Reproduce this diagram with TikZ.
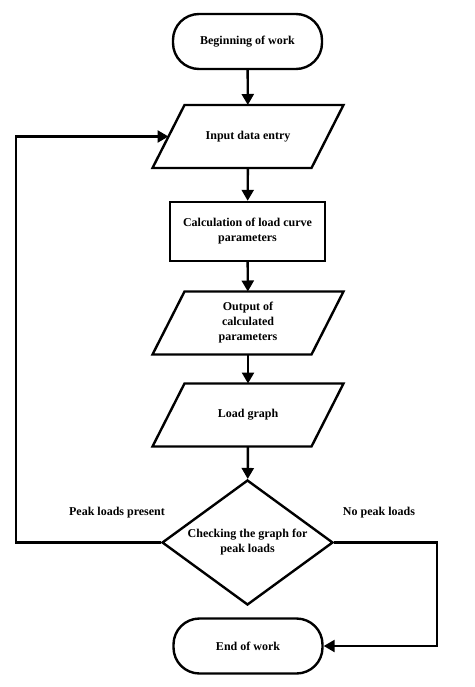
\documentclass[tikz,border=0pt]{standalone}
\usepackage{fontspec}
\setmainfont{Liberation Serif}
\usetikzlibrary{arrows.meta,shapes.geometric}
\begin{document}
\begin{tikzpicture}[x=1pt, y=-1pt, line width=2.4pt,
        every node/.style={font=\fontsize{12}{15}\selectfont\bfseries, align=center},
        term/.style={draw, rectangle, rounded corners=26pt, minimum width=149pt, minimum height=55pt},
        proc/.style={draw, rectangle, minimum width=155pt, minimum height=59pt},
        io/.style={rectangle, outer sep=0pt, minimum width=159pt, minimum height=63pt},
        check/.style={draw, diamond, aspect=1.37, inner sep=0pt, minimum width=171pt, minimum height=125pt},
        flow/.style={-{Triangle[length=11pt,width=12pt]}}]
        \useasboundingbox (0,0) rectangle (474,687);
        \node[term] (start) at (247.5,41.5) {Beginning of work};
        \node[io] (input) at (248,136.5) {Input data entry};
        \node[proc] (calc) at (247.5,231.5) {Calculation of load curve\\parameters};
        \node[io] (output) at (248,323) {Output of\\calculated\\parameters};
        \node[io] (graph) at (248,415) {Load graph};
        \node[check] (check) at (247.5,542.5) {Checking the graph for\\peak loads};
        \node[term] (stop) at (248,646) {End of work};
        \node (peak) at (117,513) {Peak loads present};
        \node (nopeak) at (379,513) {No peak loads};
        \foreach \n in {input,output,graph}
            \draw ([xshift=16pt]\n.north west) -- ([xshift=16pt]\n.north east)
                -- ([xshift=-16pt]\n.south east) -- ([xshift=-16pt]\n.south west) -- cycle;
        \coordinate (back) at (16,542.5);
        \coordinate (side) at (437,542.5);
        \draw[flow] (start) -- (input);
        \draw[flow] (input) -- (calc);
        \draw[flow] (calc) -- (output);
        \draw[flow] (output) -- (graph);
        \draw[flow] (graph) -- (check);
        \draw[flow] (check.west) -- (back) |- (input.west);
        \draw[flow] (check.east) -- (side) |- (stop.east);
\end{tikzpicture}
\end{document}
